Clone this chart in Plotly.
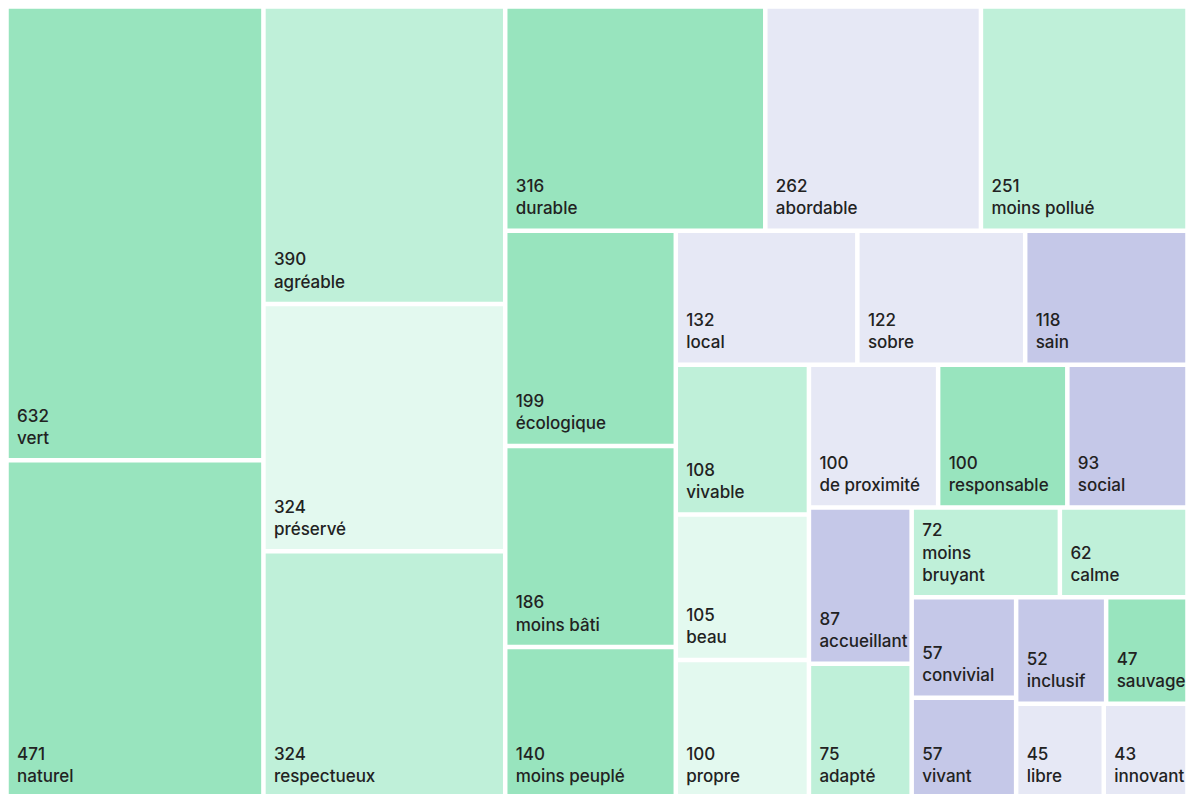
import plotly.graph_objects as go

labels = ["vert", "naturel", "agréable", "préservé", "respectueux", "durable", "abordable",
          "moins pollué", "écologique", "moins bâti", "moins peuplé", "local", "sobre", "sain",
          "vivable", "beau", "propre", "de proximité", "responsable", "social", "accueillant",
          "adapté", "moins bruyant", "calme", "convivial", "vivant", "inclusif", "sauvage",
          "libre", "innovant"]
values = [632, 471, 390, 324, 324, 316, 262, 251, 199, 186, 140, 132, 122, 118,
          108, 105, 100, 100, 100, 93, 87, 75, 72, 62, 57, 57, 52, 47, 45, 43]
colour_groups = ["G1", "G1", "G2", "G3", "G2", "G1", "L1", "G2", "G1", "G1", "G1", "L1", "L1", "L2",
                 "G2", "G3", "G3", "L1", "G1", "L2", "L2", "G2", "G2", "G2", "L2", "L2", "L2", "G1",
                 "L1", "L1"]
# layout groups (rows of the squarified layout), nested alternately
leaf_parent = ["C1", "C1", "C2", "C2", "C2", "Row3", "Row3", "Row3", "C4", "C4", "C4",
               "Row5", "Row5", "Row5", "C6", "C6", "C6", "Row7", "Row7", "Row7", "C8", "C8",
               "Row9", "Row9", "C10", "C10", "Row11", "Row11", "Row12", "Row12"]
group_ids = ["root", "C1", "C2", "R2", "Row3", "R3", "C4", "R4", "Row5", "R5", "C6", "R6",
             "Row7", "R7", "C8", "R8", "Row9", "R9", "C10", "R10", "Row11", "Row12"]
group_parent = ["", "root", "root", "root", "R2", "R2", "R3", "R3", "R4", "R4", "R5", "R5",
                "R6", "R6", "R7", "R7", "R8", "R8", "R9", "R9", "R10", "R10"]
palette = {"G1": "#98e4be", "G2": "#bff0d9", "G3": "#e3f9ef", "L1": "#e6e8f5", "L2": "#c5c8e8"}

pad = "\u00a0\u200a"
tail = "<br><span style='font-size:24px'><sup><span style='font-size:1px'>\u00a0</span></sup></span>"
display = [l.replace("moins bruyant", "moins<br>" + pad + "bruyant") for l in labels]
leaf_text = [f"{pad}{v}<br>{pad}{d}{tail}" for v, d in zip(values, display)]

ids = group_ids + labels
parents = group_parent + leaf_parent
node_labels = [""] * len(group_ids) + labels
node_values = [0] * len(group_ids) + values
node_text = [""] * len(group_ids) + leaf_text
node_colors = ["white"] * len(group_ids) + [palette[g] for g in colour_groups]
node_lw = [0] * len(group_ids) + [1.5] * len(labels)

fig = go.Figure(go.Treemap(
    ids=ids,
    labels=node_labels,
    parents=parents,
    values=node_values,
    branchvalues="remainder",
    text=node_text,
    textinfo="text",
    textposition="bottom left",
    marker=dict(colors=node_colors, line=dict(color="white", width=node_lw),
                pad=dict(t=0, l=0, r=0, b=0)),
    tiling=dict(packing="slice-dice"),
    pathbar=dict(visible=False),
    sort=False,
    textfont=dict(family="Inter, sans-serif", size=17, color="#222222", weight=500),
    hoverinfo="label+value",
))
fig.update_layout(
    width=1178, height=789,
    margin=dict(l=0, r=0, t=0, b=0),
    paper_bgcolor="white",
    uniformtext=dict(minsize=17, mode="show"),
)
fig.write_html("out.html")
